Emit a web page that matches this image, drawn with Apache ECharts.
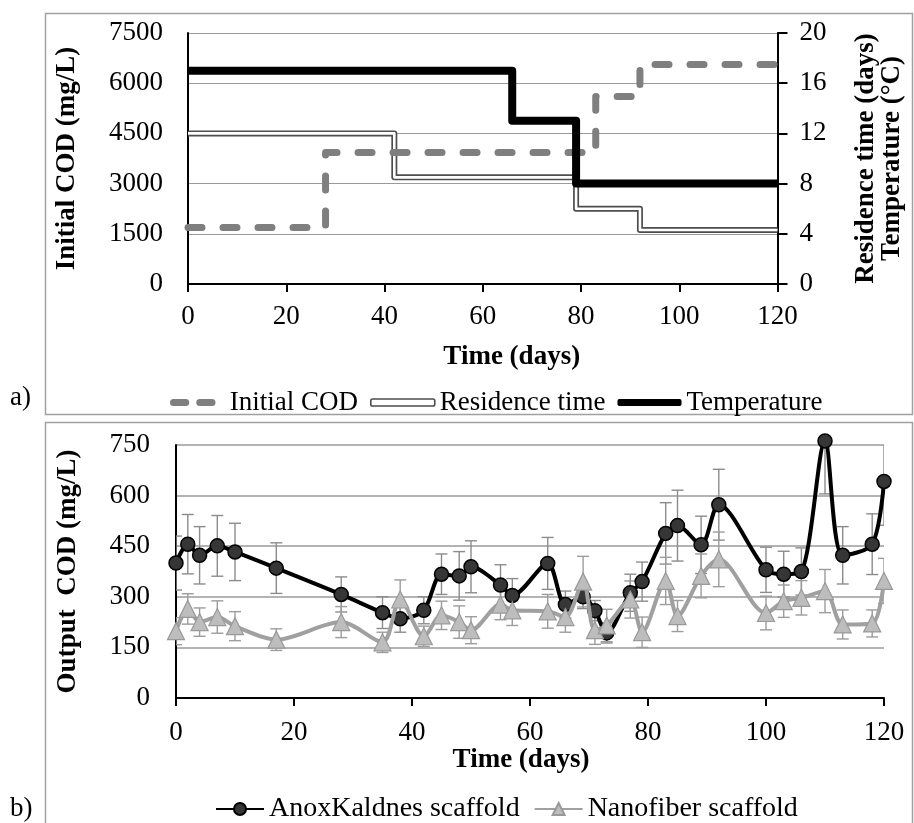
<!DOCTYPE html>
<html><head><meta charset="utf-8">
<script src="https://cdn.jsdelivr.net/npm/echarts@6/dist/echarts.min.js"></script>
<style>html,body{margin:0;padding:0;background:#fff}#c{width:914px;height:823px}</style>
</head><body><div id="c"></div>
<script>
// ---- Panel a) data ----
const xTicks = [0, 20, 40, 60, 80, 100, 120];
const codTicks = [0, 1500, 3000, 4500, 6000, 7500];
const rightTicks = [0, 4, 8, 12, 16, 20];
const codDays = [0, 28, 83, 92, 120];
const codVals = [1690, 3930, 5600, 6560, 6560];
const resDays = [0, 42, 79, 92, 120];
const resVals = [12, 8.5, 6, 4.3, 4.3];
const tempDays = [0, 66, 79, 120];
const tempVals = [17, 13, 8, 8];
// ---- Panel b) data ----
const outTicks = [0, 150, 300, 450, 600, 750];
const days = [0,2,4,7,10,17,28,35,38,42,45,48,50,55,57,63,66,69,71,73,77,79,83,85,89,92,100,103,106,110,113,118,120];
const anoxVals = [400,456,423,451,433,385,307,253,235,260,367,362,389,335,304,399,277,300,259,193,312,345,488,511,454,573,380,367,375,762,423,456,642];
const anoxErr  = [80,88,85,90,85,75,52,47,40,40,60,72,77,60,50,77,40,35,30,30,55,58,91,105,85,105,67,68,70,157,85,90,130];
const nanoVals = [198,264,225,240,213,173,225,165,292,183,245,225,201,277,260,257,240,345,201,215,292,195,347,243,362,411,252,287,297,317,218,221,347];
const nanoErr  = [40,45,42,48,43,32,46,30,58,30,42,48,40,45,45,50,45,75,42,48,55,45,70,46,65,81,50,48,51,64,43,40,67];

const FONT = 'Liberation Serif';
const zip = (a, b) => a.map((v, i) => [v, b[i]]);
const plain = v => String(v);
const axisLbl = {fontFamily: FONT, fontSize: 27, color: '#000', formatter: plain};
const nameSt = {fontFamily: FONT, fontSize: 27, fontWeight: 'bold', color: '#000'};

function xAxisDef(grid, gap, margin, pad) {
  return {type: 'value', gridIndex: grid, min: xTicks[0], max: xTicks[xTicks.length-1], interval: xTicks[1]-xTicks[0],
    axisLine: {show: true, lineStyle: {color: '#000', width: 2}},
    axisTick: {show: true, length: 8, lineStyle: {color: '#000', width: 2}},
    axisLabel: Object.assign({}, axisLbl, {margin: margin}),
    splitLine: {show: false},
    name: 'Time (days)', nameLocation: 'middle', nameGap: gap,
    nameTextStyle: Object.assign({padding: pad}, nameSt)};
}
function errBars(vals, errs, color) {
  return {type: 'custom', xAxisIndex: 1, yAxisIndex: 2, silent: true, z: 3, clip: true,
    data: days.map((d, i) => [d, vals[i] - errs[i], vals[i] + errs[i]]),
    encode: {x: 0, y: [1, 2]},
    renderItem(params, api) {
      const x = api.value(0);
      const p1 = api.coord([x, api.value(2)]), p2 = api.coord([x, api.value(1)]);
      const w = 6, st = {stroke: color, lineWidth: 1.4};
      return {type: 'group', children: [
        {type: 'line', shape: {x1: p1[0], y1: p1[1], x2: p2[0], y2: p2[1]}, style: st},
        {type: 'line', shape: {x1: p1[0]-w, y1: p1[1], x2: p1[0]+w, y2: p1[1]}, style: st},
        {type: 'line', shape: {x1: p2[0]-w, y1: p2[1], x2: p2[0]+w, y2: p2[1]}, style: st}]};
    }};
}

const chart = echarts.init(document.getElementById('c'), null, {renderer: 'canvas'});
chart.setOption({
  animation: false,
  backgroundColor: '#fff',
  grid: [
    {left: 188, top: 33, width: 597, height: 251},
    {left: 176, top: 445, width: 708, height: 253}
  ],
  xAxis: [xAxisDef(0, 60, 19, [0, 0, 0, 58]), xAxisDef(1, 48, 21, [0, 18, 0, 0])],
  yAxis: [
    {type: 'value', gridIndex: 0, position: 'left', min: codTicks[0], max: codTicks[codTicks.length-1], interval: codTicks[1]-codTicks[0],
     axisLine: {show: true, lineStyle: {color: '#000', width: 2}}, axisTick: {show: false},
     axisLabel: Object.assign({}, axisLbl, {margin: 25}),
     splitLine: {show: true, lineStyle: {color: '#9a9a9a', width: 1.2}},
     name: 'Initial COD (mg/L)', nameLocation: 'middle', nameGap: 107, nameTextStyle: nameSt},
    {type: 'value', gridIndex: 0, position: 'right', min: rightTicks[0], max: rightTicks[rightTicks.length-1], interval: rightTicks[1]-rightTicks[0],
     axisLine: {show: true, lineStyle: {color: '#000', width: 2}},
     axisTick: {show: true, length: 10, lineStyle: {color: '#000', width: 2}},
     axisLabel: Object.assign({}, axisLbl, {margin: 22}),
     splitLine: {show: false},
     name: 'Residence time (days)\nTemperature (°C)', nameLocation: 'middle', nameGap: 76,
     nameTextStyle: Object.assign({lineHeight: 26}, nameSt)},
    {type: 'value', gridIndex: 1, min: outTicks[0], max: outTicks[outTicks.length-1], interval: outTicks[1]-outTicks[0],
     axisLine: {show: true, lineStyle: {color: '#000', width: 2}}, axisTick: {show: false},
     axisLabel: Object.assign({}, axisLbl, {margin: 26}),
     splitLine: {show: true, lineStyle: {color: '#9a9a9a', width: 1.5}},
     name: 'Output  COD (mg/L)', nameLocation: 'middle', nameGap: 94, nameTextStyle: nameSt}
  ],
  legend: [
    {data: [
       {name: 'Initial COD', icon: 'path://M4,0H18A4,4 0 0 1 18,8H4A4,4 0 0 1 4,0Z M34,0H48A4,4 0 0 1 48,8H34A4,4 0 0 1 34,0Z', itemStyle: {color: '#7f7f7f'}},
       {name: 'Residence time', icon: 'roundRect', itemStyle: {color: '#fff', borderColor: '#4d4d4d', borderWidth: 1.6}},
       {name: 'Temperature', icon: 'roundRect', itemStyle: {color: '#000'}}],
     left: 165, top: 384, itemWidth: 64, itemHeight: 7, itemGap: 12,
     textStyle: {fontFamily: FONT, fontSize: 27, color: '#000'}},
    {data: ['AnoxKaldnes scaffold', 'Nanofiber scaffold'],
     left: 210, top: 790, itemWidth: 48, itemHeight: 15, itemGap: 14,
     textStyle: {fontFamily: FONT, fontSize: 28, color: '#000'}}
  ],
  series: [
    {name: 'Residence time', type: 'line', xAxisIndex: 0, yAxisIndex: 1, step: 'end', symbol: 'none',
     data: zip(resDays, resVals), lineStyle: {color: '#4d4d4d', width: 6, join: 'round'}, z: 2},
    {name: 'res-inner', type: 'line', xAxisIndex: 0, yAxisIndex: 1, step: 'end', symbol: 'none',
     data: zip(resDays, resVals), lineStyle: {color: '#fff', width: 2.6, join: 'round'}, z: 2},
    {name: 'Initial COD', type: 'line', xAxisIndex: 0, yAxisIndex: 0, step: 'end', symbol: 'none',
     data: zip(codDays, codVals), lineStyle: {color: '#7f7f7f', width: 7, type: [14, 21], cap: 'round', join: 'round'}, z: 3},
    {name: 'Temperature', type: 'line', xAxisIndex: 0, yAxisIndex: 1, step: 'end', symbol: 'none',
     data: zip(tempDays, tempVals), lineStyle: {color: '#000', width: 8, join: 'round'}, z: 4},
    errBars(anoxVals, anoxErr, '#8c8c8c'),
    errBars(nanoVals, nanoErr, '#9c9c9c'),
    {name: 'AnoxKaldnes scaffold', type: 'line', xAxisIndex: 1, yAxisIndex: 2, smooth: 0.3, clip: false,
     data: zip(days, anoxVals), symbol: 'circle', symbolSize: 14,
     itemStyle: {color: '#363636', borderColor: '#000', borderWidth: 1.5},
     lineStyle: {color: '#000', width: 4}, z: 4},
    {name: 'Nanofiber scaffold', type: 'line', xAxisIndex: 1, yAxisIndex: 2, smooth: 0.3,
     data: zip(days, nanoVals), symbol: 'triangle', symbolSize: 17,
     itemStyle: {color: '#bdbdbd', borderColor: '#999', borderWidth: 1.2},
     lineStyle: {color: '#a0a0a0', width: 4}, z: 5}
  ],
  graphic: [
    {type: 'rect', shape: {x: 45.5, y: 13.5, width: 867, height: 401}, style: {fill: 'none', stroke: '#a0a0a0', lineWidth: 1.5}, silent: true, z: -1},
    {type: 'rect', shape: {x: 45.5, y: 422.5, width: 867, height: 420}, style: {fill: 'none', stroke: '#a0a0a0', lineWidth: 1.5}, silent: true, z: -1},
    {type: 'text', left: 10, top: 384, style: {text: 'a)', font: '27px "Liberation Serif"', fill: '#000'}},
    {type: 'text', left: 10, top: 795, style: {text: 'b)', font: '27px "Liberation Serif"', fill: '#000'}}
  ]
});
</script></body></html>
